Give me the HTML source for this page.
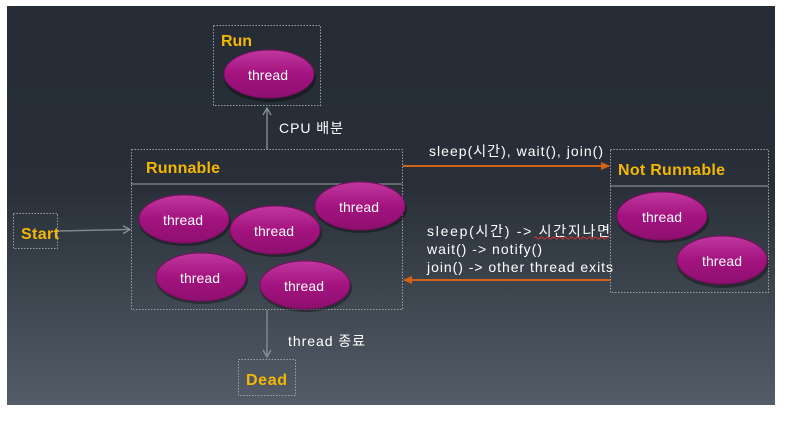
<!DOCTYPE html>
<html><head><meta charset="utf-8"><style>
html,body{margin:0;padding:0;background:#fff;width:800px;height:439px;overflow:hidden}
svg{display:block}
text{font-family:"Liberation Sans","Noto Sans CJK KR",sans-serif}
</style></head><body>
<svg width="800" height="439" viewBox="0 0 800 439" xmlns="http://www.w3.org/2000/svg">
<defs>
<linearGradient id="bg" x1="0" y1="0" x2="0" y2="1">
<stop offset="0" stop-color="#252c35"/><stop offset="0.45" stop-color="#282f38"/><stop offset="1" stop-color="#535c67"/>
</linearGradient>
<linearGradient id="el" x1="0" y1="0" x2="0" y2="1">
<stop offset="0" stop-color="#c0389f"/><stop offset="0.5" stop-color="#a4137f"/><stop offset="1" stop-color="#8e0f70"/>
</linearGradient>
<marker id="ag" markerWidth="10" markerHeight="10" refX="8" refY="5" orient="auto" markerUnits="userSpaceOnUse">
<path d="M1,1 L8,5 L1,9" fill="none" stroke="#8a939c" stroke-width="1.3"/></marker>
<marker id="ao" markerWidth="10" markerHeight="10" refX="8" refY="5" orient="auto" markerUnits="userSpaceOnUse">
<path d="M0,1 L9,5 L0,9 Z" fill="#d2641a"/></marker>
</defs>
<rect x="7" y="6" width="768" height="399" fill="url(#bg)"/>
<g fill="none" stroke="#9aa1a8" stroke-width="1" stroke-dasharray="1.5,1.5">
<rect x="213.5" y="25.5" width="107" height="80"/>
<rect x="131.5" y="149.5" width="271" height="160"/>
<rect x="13.5" y="213.5" width="44" height="35"/>
<rect x="610.5" y="149.5" width="158" height="143"/>
<rect x="238.5" y="359.5" width="57" height="36"/>
</g>
<line x1="131" y1="184" x2="402" y2="184" stroke="#9aa1a8"/>
<line x1="610" y1="186" x2="768" y2="186" stroke="#9aa1a8"/>
<line x1="267" y1="149" x2="267" y2="108" stroke="#7f8891" stroke-width="1.5" marker-end="url(#ag)"/>
<line x1="267" y1="310" x2="267" y2="357" stroke="#7f8891" stroke-width="1.5" marker-end="url(#ag)"/>
<line x1="58" y1="231" x2="130" y2="229.5" stroke="#7f8891" stroke-width="1.5" marker-end="url(#ag)"/>
<line x1="403" y1="166" x2="609" y2="166" stroke="#d2641a" stroke-width="2" marker-end="url(#ao)"/>
<line x1="610" y1="280" x2="404" y2="280" stroke="#d2641a" stroke-width="2" marker-end="url(#ao)"/>
<g>
<ellipse cx="270" cy="78" rx="46" ry="24" fill="#000" opacity=".35"/>
<ellipse cx="185" cy="222" rx="46" ry="24" fill="#000" opacity=".35"/>
<ellipse cx="276" cy="233" rx="46" ry="24" fill="#000" opacity=".35"/>
<ellipse cx="361" cy="209" rx="46" ry="24" fill="#000" opacity=".35"/>
<ellipse cx="202" cy="280" rx="46" ry="24" fill="#000" opacity=".35"/>
<ellipse cx="306" cy="288" rx="46" ry="24" fill="#000" opacity=".35"/>
<ellipse cx="663" cy="219" rx="46" ry="24" fill="#000" opacity=".35"/>
<ellipse cx="723" cy="264" rx="46" ry="24" fill="#000" opacity=".35"/>
</g>
<g fill="url(#el)" stroke="#7a0d5f" stroke-width="1">
<ellipse cx="269" cy="74" rx="45" ry="24"/>
<ellipse cx="184" cy="219" rx="45" ry="24"/>
<ellipse cx="275" cy="230" rx="45" ry="24"/>
<ellipse cx="360" cy="206" rx="45" ry="24"/>
<ellipse cx="201" cy="277" rx="45" ry="24"/>
<ellipse cx="305" cy="285" rx="45" ry="24"/>
<ellipse cx="662" cy="216" rx="45" ry="24"/>
<ellipse cx="722" cy="260" rx="45" ry="24"/>
</g>
<g fill="#fff" font-size="14">
<text x="248" y="80" textLength="40">thread</text>
<text x="163" y="225" textLength="40">thread</text>
<text x="254" y="236" textLength="40">thread</text>
<text x="339" y="212" textLength="40">thread</text>
<text x="180" y="283" textLength="40">thread</text>
<text x="284" y="291" textLength="40">thread</text>
<text x="642" y="222" textLength="40">thread</text>
<text x="702" y="266" textLength="40">thread</text>
</g>
<g fill="#f5b800" font-size="16" font-weight="bold">
<text x="221" y="46" textLength="31">Run</text>
<text x="146" y="173" textLength="74">Runnable</text>
<text x="21" y="239" textLength="38">Start</text>
<text x="618" y="175" textLength="107">Not Runnable</text>
<text x="246" y="385" textLength="41">Dead</text>
</g>
<g fill="#fff" font-size="14">
<text x="279" y="133" textLength="64">CPU 배분</text>
<text x="288" y="346" textLength="77">thread 종료</text>
<text x="429" y="156" textLength="174">sleep(시간), wait(), join()</text>
<text x="427" y="236" textLength="183">sleep(시간) -&gt; 시간지나면</text>
<text x="427" y="254" textLength="115">wait() -&gt; notify()</text>
<text x="427" y="272" textLength="186">join() -&gt; other thread exits</text>
</g>
<path d="M534,238 q1.5,-2 3,0 t3,0 t3,0 t3,0 t3,0 t3,0 t3,0 t3,0 t3,0 t3,0 t3,0 t3,0 t3,0 t3,0 t3,0 t3,0 t3,0 t3,0 t3,0 t3,0 t3,0 t3,0 t3,0 t3,0 t3,0" fill="none" stroke="#e03030" stroke-width="1"/>
</svg>
</body></html>
